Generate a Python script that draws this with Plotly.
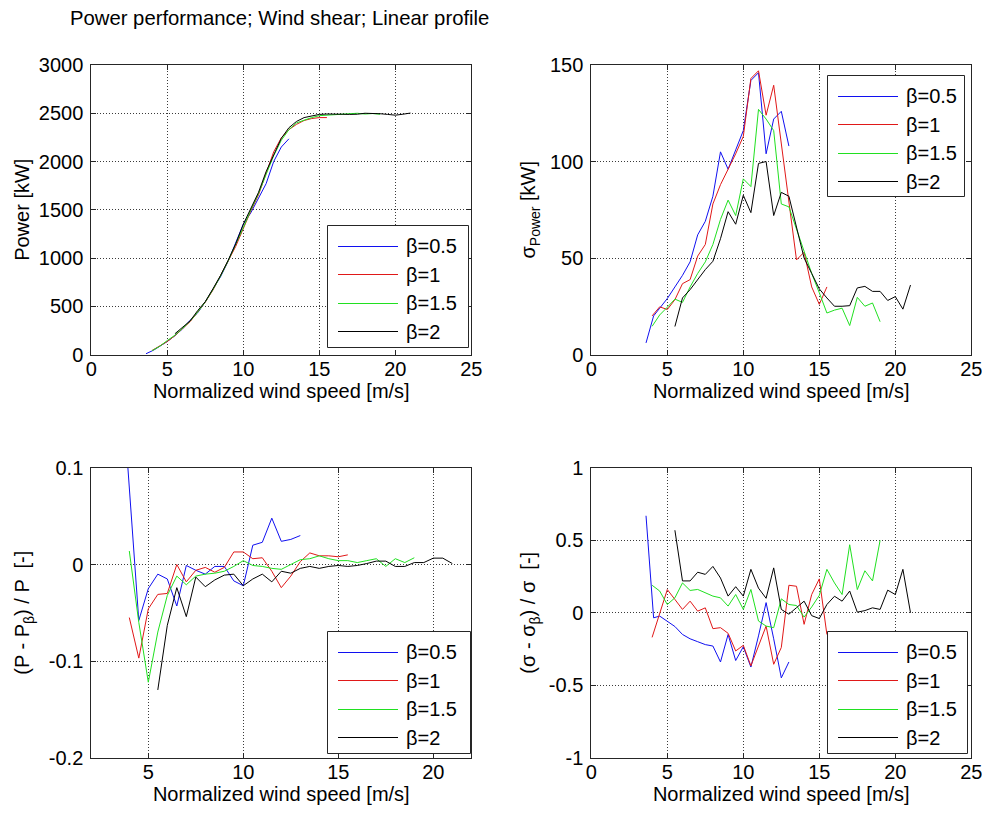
import plotly.graph_objects as go

# ---------------- data ----------------
names = ["β=0.5", "β=1", "β=1.5", "β=2"]
colors = ["#1010f0", "#e01818", "#20e020", "#000000"]

ws_b05 = [3.6, 4.1, 4.5, 5.0, 5.5, 6.0, 6.5, 7.0, 7.5, 8.0, 8.5, 9.0, 9.5, 10.0,
          10.5, 11.0, 11.5, 12.0, 12.5, 13.0]
ws_b1 = [4.0, 4.5, 5.0, 5.5, 6.0, 6.5, 7.0, 7.5, 8.0, 8.5, 9.0, 9.5, 10.0, 10.5,
         11.0, 11.5, 12.0, 12.5, 13.0, 13.5, 14.0, 14.5, 15.0, 15.5]
ws_b15 = [4.0, 4.5, 5.0, 5.5, 6.0, 6.5, 7.0, 7.5, 8.0, 8.5, 9.0, 9.5, 10.0, 10.5,
          11.0, 11.5, 12.0, 12.5, 13.0, 13.5, 14.0, 14.5, 15.0, 15.5, 16.0, 16.5,
          17.0, 17.5, 18.0, 18.5, 19.0]
ws_b2 = [5.5, 6.0, 6.5, 7.0, 7.5, 8.0, 8.5, 9.0, 9.5, 10.0, 10.5, 11.0, 11.5, 12.0,
         12.5, 13.0, 13.5, 14.0, 14.5, 15.0, 15.5, 16.0, 16.5, 17.0, 17.5, 18.0,
         18.5, 19.0, 19.5, 20.0, 20.5, 21.0]

# Power [kW]
power_b05 = [8, 45, 85, 135, 195, 265, 355, 432, 545, 670, 805, 965, 1150, 1350,
             1470, 1625, 1770, 2000, 2150, 2235]
power_b1 = [42, 88, 135, 195, 270, 340, 440, 543, 667, 810, 968, 1120, 1305, 1490,
            1655, 1870, 2100, 2245, 2330, 2385, 2425, 2445, 2455, 2455]
power_b15 = [40, 85, 145, 200, 270, 345, 440, 545, 672, 812, 970, 1137, 1315, 1500,
             1668, 1866, 2060, 2220, 2330, 2400, 2430, 2455, 2475, 2480, 2487, 2490,
             2492, 2500, 2492, 2497, 2490]
power_b2 = [215, 278, 348, 455, 548, 680, 818, 975, 1146, 1350, 1520, 1680, 1895,
            2065, 2240, 2350, 2415, 2455, 2475, 2488, 2492, 2494, 2490, 2488, 2490,
            2500, 2500, 2495, 2488, 2480, 2490, 2502]

# sigma Power [kW]
sigma_b05 = [6, 20, 24, 29, 35, 41, 48, 62, 69, 82, 105, 96, 106, 116, 142, 146,
             104, 122, 126, 108]
sigma_b1 = [20, 24.7, 23.3, 28.4, 36.7, 38.8, 51, 57, 78, 88, 96, 104, 113, 143,
            147, 124, 139.5, 110, 78, 49, 53, 35, 26, 35]
sigma_b15 = [14.6, 20.5, 24.5, 28.7, 27, 35, 42, 48, 57, 70, 80, 72, 91, 87, 127,
             122, 116, 78, 76.5, 65, 52.5, 42, 32, 21.5, 23, 24, 15, 29.6, 25, 26.7, 17]
sigma_b2 = [14.5, 29.3, 33.6, 38.8, 44, 48.3, 60, 74, 67.5, 82.5, 73.5, 99, 100, 72,
            84, 82, 66, 50, 42, 34, 29.3, 25, 25, 25.3, 34.5, 35.3, 32.7, 32.7, 28,
            30, 23.5, 36]

# (P - P_beta) / P [-]
dp_b05 = [0.19, 0.05, -0.058, -0.025, -0.010, -0.015, -0.043, -0.001, -0.006,
          -0.010, -0.002, -0.002, -0.017, -0.022, 0.020, 0.023, 0.048, 0.024,
          0.026, 0.030]
dp_b1 = [-0.055, -0.097, -0.046, -0.031, -0.030, 0.0, -0.018, -0.006, -0.003,
         -0.008, -0.003, 0.013, 0.013, 0.006, 0.007, -0.007, -0.024, -0.012,
         0.003, 0.012, 0.009, 0.009, 0.008, 0.010]
dp_b15 = [0.014, -0.060, -0.122, -0.070, -0.032, -0.012, -0.021, -0.012, -0.010,
          -0.009, -0.007, -0.002, 0.004, -0.001, -0.002, -0.004, -0.005, 0.0,
          0.005, 0.006, 0.009, 0.006, 0.004, 0.004, 0.002, 0.004, 0.006, -0.002,
          0.006, 0.002, 0.007]
dp_b2 = [-0.130, -0.063, -0.024, -0.054, -0.013, -0.023, -0.016, -0.011, -0.010,
         -0.022, -0.015, -0.010, -0.018, -0.007, -0.009, -0.004, -0.002, -0.004,
         -0.002, -0.001, -0.002, -0.001, 0.001, 0.0035, 0.0035, -0.002, -0.002,
         0.002, 0.002, 0.0066, 0.0066, 0.001]

# (sigma - sigma_beta) / sigma [-]
ds_b05 = [0.67, -0.035, -0.023, -0.06, -0.095, -0.15, -0.18, -0.20, -0.22, -0.23,
          -0.34, -0.15, -0.33, -0.235, -0.375, -0.16, 0.07, -0.18, -0.45, -0.34]
ds_b1 = [-0.17, -0.01, 0.16, 0.092, 0.023, 0.08, 0.011, 0.034, -0.11, -0.103,
         -0.142, -0.264, -0.225, -0.367, -0.229, -0.092, -0.356, -0.24, 0.19,
         0.183, -0.08, 0.126, 0.234, -0.15]
ds_b15 = [0.19, 0.15, 0.057, 0.103, 0.206, 0.154, 0.161, 0.138, 0.115, 0.103,
          0.046, 0.126, 0.023, 0.161, -0.057, -0.092, -0.103, 0.096, 0.057, 0.05,
          -0.03, 0.04, 0.12, 0.30, 0.206, 0.126, 0.47, 0.16, 0.29, 0.22, 0.50]
ds_b2 = [0.57, 0.22, 0.22, 0.28, 0.265, 0.32, 0.24, 0.115, 0.18, 0.115, 0.30, 0.17,
         0.10, 0.31, 0.023, -0.01, 0.035, 0.08, -0.02, -0.04, 0.057, 0.114, 0.08,
         0.15, 0.004, 0.015, 0.034, 0.023, 0.156, 0.126, 0.30, 0.0]

xs = [ws_b05, ws_b1, ws_b15, ws_b2]
panels = [
    ([power_b05, power_b1, power_b15, power_b2], "x", "y"),
    ([sigma_b05, sigma_b1, sigma_b15, sigma_b2], "x2", "y2"),
    ([dp_b05, dp_b1, dp_b15, dp_b2], "x3", "y3"),
    ([ds_b05, ds_b1, ds_b15, ds_b2], "x4", "y4"),
]

title_text = "Power performance; Wind shear; Linear profile"
xlabel = "Normalized wind speed [m/s]"

# ---------------- figure ----------------
FONT = "Liberation Sans, Arial, Helvetica, sans-serif"
W, H = 982, 814
fig = go.Figure()

for ys, xa, ya in panels:
    for i in range(4):
        fig.add_trace(go.Scatter(
            x=xs[i], y=ys[i], mode="lines", name=names[i],
            line=dict(color=colors[i], width=1),
            xaxis=xa, yaxis=ya, showlegend=False,
            hoverinfo="x+y+name"))

def px_x(p):
    return p / W

def px_y(p):
    return 1 - p / H

left_dom = [px_x(91.3), px_x(471.3)]
right_dom = [px_x(591.3), px_x(971.3)]
top_dom = [px_y(354.5), px_y(65)]
bot_dom = [px_y(757.5), px_y(468)]

axis_common = dict(
    automargin=False, ticklabeloverflow="allow",
    showline=True, linecolor="#262626", linewidth=1, mirror="ticks",
    ticks="inside", ticklen=5, tickcolor="#262626",
    showgrid=True, gridcolor="#3a3a3a", griddash="1px,2px", gridwidth=1,
    zeroline=False, tickfont=dict(size=20, color="black", family=FONT),
    title_font=dict(size=20, color="black", family=FONT),
)

def xax(dom, anchor, rng, vals):
    d = dict(axis_common)
    d.update(domain=dom, anchor=anchor, range=rng, tickmode="array",
             tickvals=vals, ticktext=[str(v) for v in vals],
             ticklabelstandoff=-4,
             title=dict(text=xlabel, standoff=3))
    return d

def yax(dom, anchor, rng, vals, texts, title, standoff):
    d = dict(axis_common)
    d.update(domain=dom, anchor=anchor, range=rng, tickmode="array",
             tickvals=vals, ticktext=texts, ticklabelstandoff=3,
             title=dict(text=title, standoff=standoff))
    return d

# ---- per-panel legend boxes (pixel layout of the reference) ----
legend_boxes = [(327, 225, 468, 347), (827, 75, 964, 196),
                (327, 631, 470, 753), (827, 631, 967, 753)]
shapes = []
annotations = [dict(text=title_text, x=px_x(279), y=px_y(18), xref="paper",
                    yref="paper", showarrow=False, xanchor="center",
                    yanchor="middle", font=dict(size=20.3, family=FONT))]
for (l, t, r, b) in legend_boxes:
    shapes.append(dict(type="rect", xref="paper", yref="paper", layer="above",
                       x0=px_x(l + 0.5), x1=px_x(r + 0.5),
                       y0=px_y(b + 0.5), y1=px_y(t + 0.5),
                       fillcolor="white", line=dict(color="#262626", width=1)))
    for i in range(4):
        yc = t + 21 + 28.5 * i
        yl = int(yc) + 0.5
        shapes.append(dict(type="line", xref="paper", yref="paper", layer="above",
                           x0=px_x(l + 11), x1=px_x(l + 71),
                           y0=px_y(yl), y1=px_y(yl),
                           line=dict(color=colors[i], width=1)))
        annotations.append(dict(text=names[i], x=px_x(l + 77), y=px_y(yc),
                                xref="paper", yref="paper", showarrow=False,
                                xanchor="left", yanchor="middle",
                                font=dict(size=20, family=FONT, color="black")))

xt25 = [0, 5, 10, 15, 20, 25]
fig.update_layout(
    width=W, height=H, margin=dict(l=0, r=0, t=0, b=0),
    paper_bgcolor="white", plot_bgcolor="white",
    font=dict(family=FONT, size=20, color="black"),
    xaxis=xax(left_dom, "y", [0, 25], xt25),
    yaxis=yax(top_dom, "x", [0, 3000], [0, 500, 1000, 1500, 2000, 2500, 3000],
              ["0", "500", "1000", "1500", "2000", "2500", "3000"],
              "Power [kW]", 3),
    xaxis2=xax(right_dom, "y2", [0, 25], xt25),
    yaxis2=yax(top_dom, "x2", [0, 150], [0, 50, 100, 150],
               ["0", "50", "100", "150"], "σ<sub>Power</sub> [kW]", 8),
    xaxis3=xax(left_dom, "y3", [2, 22], [5, 10, 15, 20]),
    yaxis3=yax(bot_dom, "x3", [-0.2, 0.1], [-0.2, -0.1, 0, 0.1],
               ["-0.2", "-0.1", "0", "0.1"], "(P - P<sub>β</sub>) / P  [-]", 13),
    xaxis4=xax(right_dom, "y4", [0, 25], xt25),
    yaxis4=yax(bot_dom, "x4", [-1, 1], [-1, -0.5, 0, 0.5, 1],
               ["-1", "-0.5", "0", "0.5", "1"], "(σ - σ<sub>β</sub>) / σ  [-]", 7),
    shapes=shapes,
    annotations=annotations,
    showlegend=False,
)

# page tweak: remove the default body margin so the figure sits at (0, 0)
post = "document.body.style.margin='0';"
fig.write_html("out.html", post_script=post,
               config={"displayModeBar": False, "responsive": False})
